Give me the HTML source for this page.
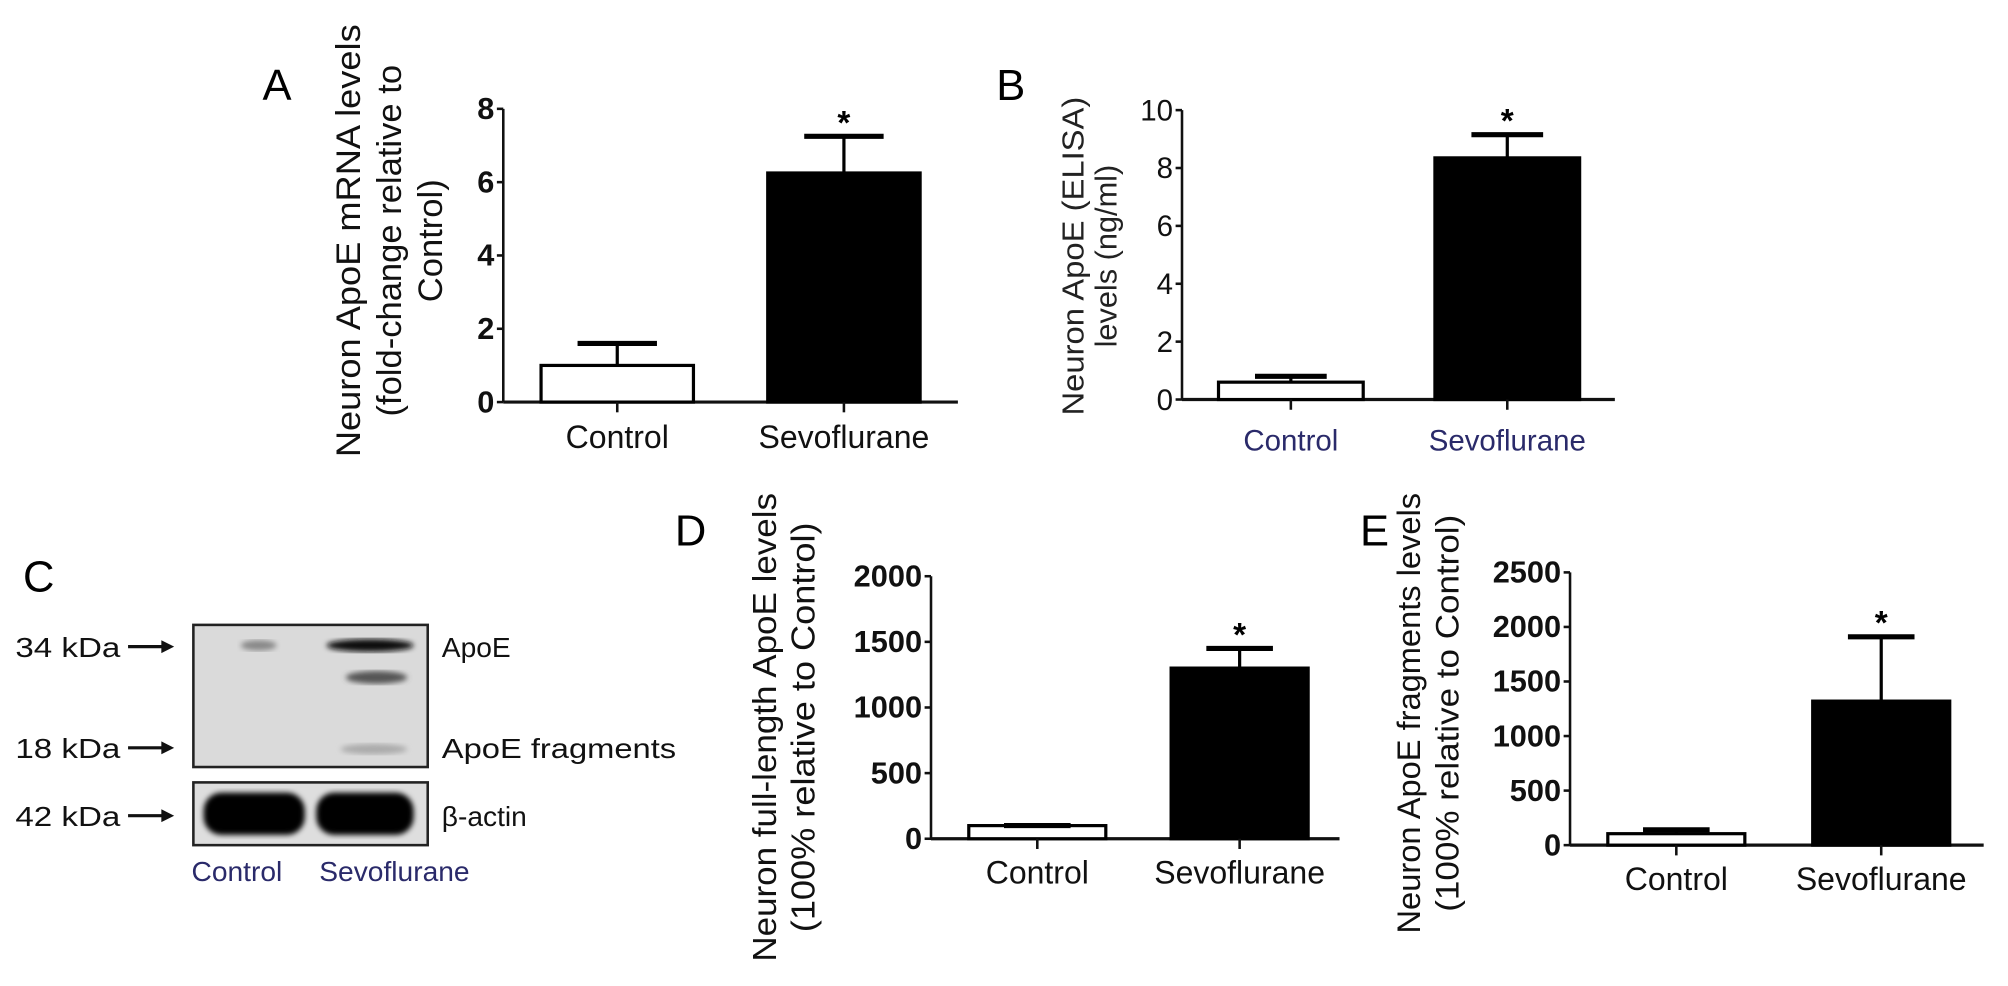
<!DOCTYPE html>
<html><head><meta charset="utf-8"><style>
html,body{margin:0;padding:0;background:#fff;width:2008px;height:986px;overflow:hidden}
svg{display:block}
text{font-family:"Liberation Sans Narrow","Liberation Sans",sans-serif}
.t{font-family:"Liberation Sans",sans-serif}
</style></head><body>
<svg id="fig" width="2008" height="986" viewBox="0 0 1568 770" preserveAspectRatio="none" xmlns="http://www.w3.org/2000/svg">
<defs>
<filter id="blur2"><feGaussianBlur stdDeviation="2"/></filter>
</defs>
<text x="205" y="78" font-size="34" class="t">A</text>
<text x="778" y="78" font-size="34" class="t">B</text>
<text x="18" y="462" font-size="34" class="t">C</text>
<text x="527" y="426" font-size="34" class="t">D</text>
<text x="1062" y="426" font-size="34" class="t">E</text>

<g font-size="27" class="t" fill="#111" text-anchor="middle">
<text transform="translate(281,188) rotate(-90)" textLength="338" lengthAdjust="spacingAndGlyphs">Neuron ApoE mRNA levels</text>
<text transform="translate(313,188) rotate(-90)">(fold-change relative to</text>
<text transform="translate(345,188) rotate(-90)">Control)</text>
</g>
<g font-size="24" class="t" fill="#222" text-anchor="middle">
<text transform="translate(846,200) rotate(-90)" textLength="249" lengthAdjust="spacingAndGlyphs">Neuron ApoE (ELISA)</text>
<text transform="translate(872,200) rotate(-90)">levels (ng/ml)</text>
</g>
<g font-size="26" class="t" fill="#111" text-anchor="middle">
<text transform="translate(606,568) rotate(-90)" textLength="366" lengthAdjust="spacingAndGlyphs">Neuron full-length ApoE levels</text>
<text transform="translate(636,568) rotate(-90)" textLength="320" lengthAdjust="spacingAndGlyphs">(100% relative to Control)</text>
</g>
<g font-size="25" class="t" fill="#111" text-anchor="middle">
<text transform="translate(1109,557) rotate(-90)" textLength="344" lengthAdjust="spacingAndGlyphs">Neuron ApoE fragments levels</text>
<text transform="translate(1139,557) rotate(-90)" textLength="310" lengthAdjust="spacingAndGlyphs">(100% relative to Control)</text>
</g>

<g>
<rect x="151" y="488" width="183" height="111" fill="#dadada" stroke="#222" stroke-width="2"/>
<ellipse cx="202" cy="504" rx="14" ry="4" fill="#888" filter="url(#blur2)"/>
<ellipse cx="289" cy="504" rx="34" ry="5" fill="#111" filter="url(#blur2)"/>
<ellipse cx="294" cy="529" rx="24" ry="5" fill="#555" filter="url(#blur2)"/>
<ellipse cx="292" cy="585" rx="26" ry="4" fill="#aaa" filter="url(#blur2)"/>
<rect x="151" y="611" width="183" height="49" fill="#dedede" stroke="#222" stroke-width="2"/>
<rect x="159" y="619" width="79" height="33" rx="14" fill="#050505" filter="url(#blur2)"/>
<rect x="247" y="619" width="76" height="33" rx="14" fill="#050505" filter="url(#blur2)"/>
<g font-size="22" fill="#111">
<text x="12" y="513" textLength="82" lengthAdjust="spacingAndGlyphs">34 kDa</text>
<text x="12" y="592" textLength="82" lengthAdjust="spacingAndGlyphs">18 kDa</text>
<text x="12" y="645" textLength="82" lengthAdjust="spacingAndGlyphs">42 kDa</text>
<text x="345" y="513">ApoE</text>
<text x="345" y="592" textLength="183" lengthAdjust="spacingAndGlyphs">ApoE fragments</text>
<text x="345" y="645">β-actin</text>
</g>
<g stroke="#111" stroke-width="2.5" fill="#111">
<line x1="100" y1="505" x2="128" y2="505"/><polygon points="136,505 126,500 126,510" stroke="none"/>
<line x1="100" y1="584" x2="128" y2="584"/><polygon points="136,584 126,579 126,589" stroke="none"/>
<line x1="100" y1="637" x2="128" y2="637"/><polygon points="136,637 126,632 126,642" stroke="none"/>
</g>
<g font-size="22" fill="#2a2a6a" text-anchor="middle">
<text x="185" y="688">Control</text>
<text x="308" y="688">Sevoflurane</text>
</g>
</g>
<g id="charts"></g>
</svg>
<script>
// Panel A
const categoriesA = ["Control", "Sevoflurane"];
const valuesA = [1.0, 6.25];
const errorsA = [0.6, 1.0];
const ticksA = [0, 2, 4, 6, 8];
// Panel B
const categoriesB = ["Control", "Sevoflurane"];
const valuesB = [0.6, 8.35];
const errorsB = [0.2, 0.8];
const ticksB = [0, 2, 4, 6, 8, 10];
// Panel D
const categoriesD = ["Control", "Sevoflurane"];
const valuesD = [100, 1300];
const errorsD = [0, 150];
const ticksD = [0, 500, 1000, 1500, 2000];
// Panel E
const categoriesE = ["Control", "Sevoflurane"];
const valuesE = [105, 1320];
const errorsE = [35, 590];
const ticksE = [0, 500, 1000, 1500, 2000, 2500];

const NS = "http://www.w3.org/2000/svg";
const root = document.getElementById('charts');
function mk(tag, attrs, parent) {
  const e = document.createElementNS(NS, tag);
  for (const k in attrs) e.setAttribute(k, attrs[k]);
  parent.appendChild(e);
  return e;
}
function chart(p, cats, vals, errs, ticks) {
  const g = mk('g', {}, root);
  
  
  const maxV = ticks[ticks.length - 1];
  const y = v => p.y0 - (v / maxV) * (p.y0 - p.yTop);
  const ax = mk('line', {x1: p.ax, y1: p.yTop, x2: p.ax, y2: p.y0, stroke: '#111', 'stroke-width': 2}, g);
  
  
  const xa = mk('line', {x1: p.ax, y1: p.y0, x2: p.axEnd, y2: p.y0, stroke: '#111', 'stroke-width': 2.5}, g);
  
  
  ticks.forEach(t => {
    const ty = y(t);
    mk('line', {x1: p.ax - 5, y1: ty, x2: p.ax, y2: ty, stroke: '#111', 'stroke-width': 2}, g);
    const tl = mk('text', {x: p.ax - 7, y: ty + 8, 'font-size': p.tickSize, 'font-weight': p.tickWeight, 'text-anchor': 'end', fill: '#111'}, g);
    
    
    tl.textContent = t;
  });
  cats.forEach((c, i) => {
    const cx = p.centers[i];
    const top = y(vals[i]);
    const bar = mk('rect', {x: cx - p.bw / 2, y: top, width: p.bw, height: p.y0 - top, fill: i === 0 ? '#fff' : '#000', stroke: '#000', 'stroke-width': 2.5}, g);
    
    
    const ey = y(vals[i] + errs[i]);
    if (errs[i] > 0) {
      const el = mk('line', {x1: cx, y1: top, x2: cx, y2: ey, stroke: '#000', 'stroke-width': 2.5}, g);
      
      
    }
    const cap = mk('line', {x1: cx - p.cap, y1: ey, x2: cx + p.cap, y2: ey, stroke: '#000', 'stroke-width': 4}, g);
    
    
    mk('line', {x1: cx, y1: p.y0, x2: cx, y2: p.y0 + 8, stroke: '#111', 'stroke-width': 2}, g);
    const lab = mk('text', {x: cx, y: p.labY, 'font-size': p.labSize, 'text-anchor': 'middle', fill: p.labColor}, g);
    
    
    lab.textContent = c;
    if (i === 1) {
      const st = mk('text', {x: cx, y: ey - 2, 'font-size': 26, 'font-weight': 'bold', 'text-anchor': 'middle', fill: '#000', class: 't'}, g);
      
      
      st.textContent = '*';
    }
  });
}
chart({name: 'chart-a', ax: 393, axEnd: 748, y0: 314, yTop: 85, centers: [482, 659], bw: 119, cap: 31, tickSize: 24, tickWeight: 'bold', labY: 350, labSize: 25, labColor: '#111'}, categoriesA, valuesA, errorsA, ticksA);
chart({name: 'chart-b', ax: 923, axEnd: 1261, y0: 312, yTop: 86, centers: [1008, 1177], bw: 113, cap: 28, tickSize: 23, tickWeight: 'normal', labY: 352, labSize: 23, labColor: '#2a2a6a'}, categoriesB, valuesB, errorsB, ticksB);
chart({name: 'chart-d', ax: 727, axEnd: 1046, y0: 655, yTop: 450, centers: [810, 968], bw: 107, cap: 26, tickSize: 24, tickWeight: 'bold', labY: 690, labSize: 25, labColor: '#111'}, categoriesD, valuesD, errorsD, ticksD);
chart({name: 'chart-e', ax: 1226, axEnd: 1549, y0: 660, yTop: 447, centers: [1309, 1469], bw: 107, cap: 26, tickSize: 24, tickWeight: 'bold', labY: 695, labSize: 25, labColor: '#111'}, categoriesE, valuesE, errorsE, ticksE);
</script>
</body></html>
